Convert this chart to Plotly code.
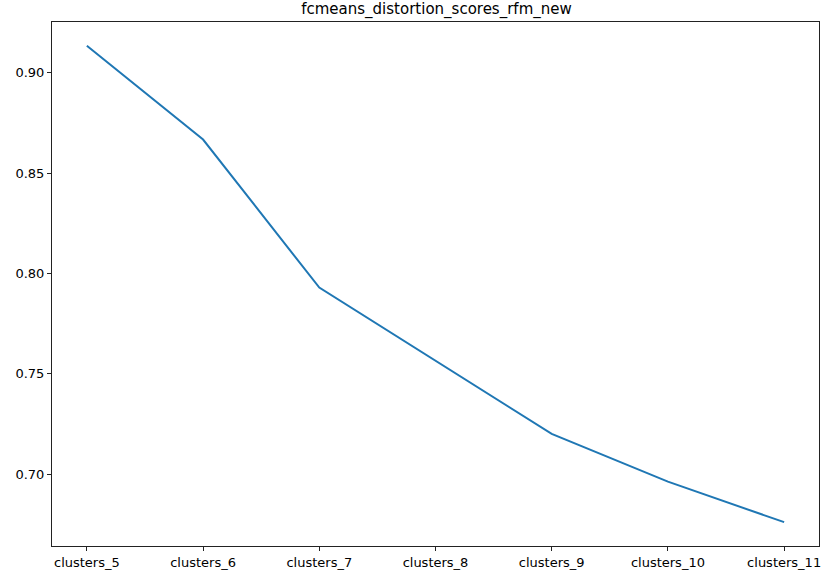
import plotly.graph_objects as go

categories = ["clusters_5", "clusters_6", "clusters_7", "clusters_8", "clusters_9", "clusters_10", "clusters_11"]
scores = [0.9135, 0.8668, 0.7930, 0.7566, 0.7201, 0.6963, 0.6761]
y_ticks = [0.70, 0.75, 0.80, 0.85, 0.90]
y_tick_labels = ["0.70", "0.75", "0.80", "0.85", "0.90"]

n = len(categories)
ymin, ymax = min(scores), max(scores)
pad = (ymax - ymin) * 0.05
xpad = (n - 1) * 0.05

fig = go.Figure()
fig.add_trace(go.Scatter(
    x=list(range(n)), y=scores, mode="lines",
    line=dict(color="#1f77b4", width=2),
    showlegend=False, hoverinfo="skip",
))

axis_common = dict(
    showgrid=False, zeroline=False, showline=True, linecolor="#222222", linewidth=1,
    mirror=True, ticks="outside", ticklen=4, tickwidth=1, tickcolor="#222222",
    tickfont=dict(family="DejaVu Sans", size=13, color="black"),
)

fig.update_layout(
    width=827, height=579,
    margin=dict(l=52, r=6, t=22, b=33),
    paper_bgcolor="white", plot_bgcolor="white",
    title=dict(text="fcmeans_distortion_scores_rfm_new", x=0.5278, xanchor="center",
               y=1 - 9 / 579, yanchor="middle",
               font=dict(family="DejaVu Sans", size=15, color="black")),
    xaxis=dict(range=[-xpad, n - 1 + xpad], tickmode="array",
               tickvals=list(range(n)), ticktext=categories, **axis_common),
    yaxis=dict(range=[ymin - pad, ymax + pad], tickmode="array",
               tickvals=y_ticks, ticktext=y_tick_labels, **axis_common),
)

fig.write_html("out.html")
